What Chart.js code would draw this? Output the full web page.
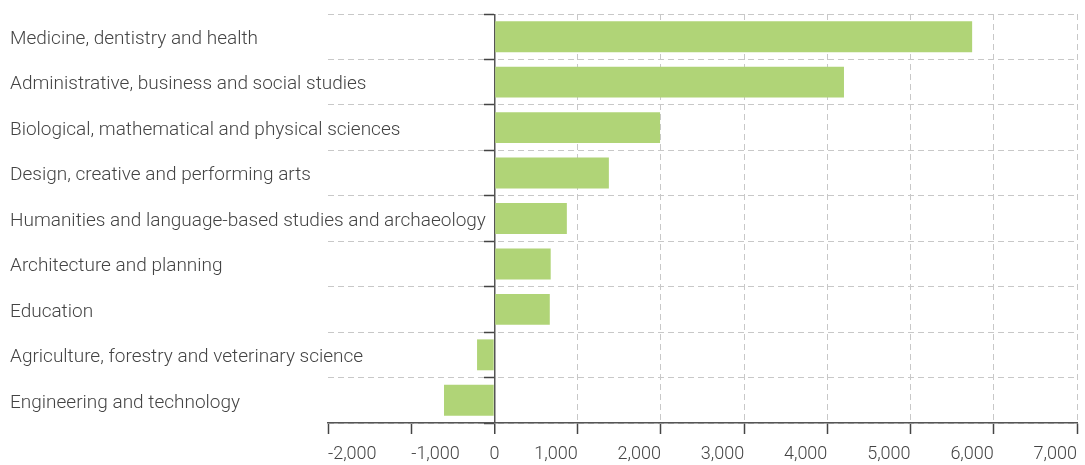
<!DOCTYPE html>
<html>
<head>
<meta charset="utf-8">
<script src="https://cdn.jsdelivr.net/npm/chart.js@4"></script>
<style>
  html, body { margin: 0; padding: 0; background: #fff; }
  #wrap { width: 1085px; height: 465px; position: relative; }
</style>
</head>
<body>
<div id="wrap"><canvas id="chart"></canvas></div>
<script>
const categories = [
    'Medicine, dentistry and health',
    'Administrative, business and social studies',
    'Biological, mathematical and physical sciences',
    'Design, creative and performing arts',
    'Humanities and language-based studies and archaeology',
    'Architecture and planning',
    'Education',
    'Agriculture, forestry and veterinary science',
    'Engineering and technology'
];
const values = [5740, 4200, 1990, 1375, 870, 676, 665, -209, -606];
const tickValues = [-2000, -1000, 0, 1000, 2000, 3000, 4000, 5000, 6000, 7000];

const FONT = "Roboto, 'Open Sans', sans-serif";

// labels drawn by hand: category names run over the plot area,
// x labels: negatives left-aligned, zero centred, positives right-aligned
const labelPlugin = {
    id: 'labels',
    afterDraw(chart) {
        const xs = chart.scales.x;
        const ys = chart.scales.y;
        const ctx = chart.ctx;
        ctx.save();
        ctx.fillStyle = '#444';
        ctx.textBaseline = 'middle';

        ctx.font = '300 19px ' + FONT;
        ctx.textAlign = 'left';
        categories.forEach((c, i) => {
            ctx.fillText(c, 10, ys.getPixelForTick(i) + 2.5);
        });

        ctx.font = '300 18px ' + FONT;
        xs.ticks.forEach(t => {
            const x = xs.getPixelForValue(t.value);
            ctx.textAlign = t.value < 0 ? 'left' : (t.value === 0 ? 'center' : 'right');
            ctx.fillText(t.value.toLocaleString('en-US'), x, xs.bottom - 11);
        });
        ctx.restore();
    }
};

new Chart(document.getElementById('chart'), {
    type: 'bar',
    data: {
        labels: categories,
        datasets: [{
            data: values,
            backgroundColor: '#b0d477',
            borderWidth: 0,
            categoryPercentage: 1,
            barPercentage: 0.68
        }]
    },
    options: {
        indexAxis: 'y',
        responsive: true,
        maintainAspectRatio: false,
        animation: false,
        layout: { padding: { left: 10, top: 14, right: 8, bottom: 0 } },
        plugins: {
            legend: { display: false },
            tooltip: { enabled: false }
        },
        scales: {
            x: {
                min: -2000,
                max: 7000,
                z: 1,
                afterBuildTicks: s => { s.ticks = tickValues.map(v => ({ value: v })); },
                afterFit: s => { s.height = 42; },
                ticks: { display: false },
                grid: {
                    color: c => c.tick && c.tick.value === 0 ? '#555' : (c.tick && c.tick.value < 0 ? 'rgba(0,0,0,0)' : '#c8c8c8'),
                    lineWidth: c => c.tick && c.tick.value === 0 ? 1.5 : 1,
                    tickColor: '#444',
                    tickWidth: 1.5,
                    tickLength: 11
                },
                border: {
                    color: '#555',
                    width: 1.5,
                    dash: c => c.tick && c.tick.value === 0 ? [] : [6, 4]
                }
            },
            y: {
                offset: true,
                afterFit: s => { s.width = 318; },
                ticks: { display: false },
                grid: {
                    offset: true,
                    color: '#c8c8c8',
                    drawTicks: false
                },
                border: { display: false, dash: [6, 4] }
            },
            y2: {
                type: 'category',
                labels: categories,
                position: { x: 0 },
                offset: true,
                ticks: { display: false },
                grid: {
                    offset: true,
                    drawOnChartArea: false,
                    tickLength: 10,
                    tickColor: '#444',
                    tickWidth: 1.5
                },
                border: { display: false }
            }
        }
    },
    plugins: [labelPlugin]
});
</script>
</body>
</html>
